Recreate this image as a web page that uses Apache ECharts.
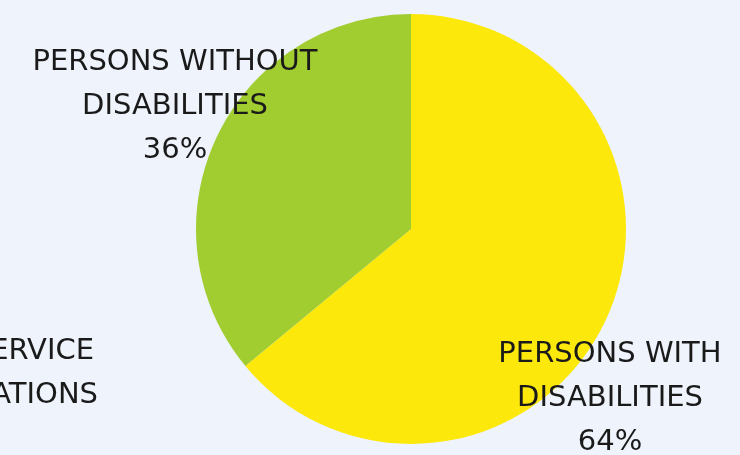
<!DOCTYPE html>
<html>
<head>
<meta charset="utf-8">
<script src="https://cdn.jsdelivr.net/npm/echarts@6/dist/echarts.min.js"></script>
<style>
  html, body { margin: 0; padding: 0; background: #eef3fc; }
  #chart { width: 740px; height: 455px; }
</style>
</head>
<body>
<div id="chart"></div>
<script>
// 饼图数据
var sliceNames = ['PERSONS WITH\nDISABILITIES', 'PERSONS WITHOUT\nDISABILITIES'];
var sliceValues = [64, 36];
var sliceColors = ['#fde80b', '#a2cd30'];
// 标签位置（标签中心点）
var labelSpots = [[610, 398], [175, 106]];
// 左侧被裁切的文字
var cutLines = ['SERVICE', 'ORGANIZATIONS'];

var chart = echarts.init(document.getElementById('chart'));

var pieData = sliceNames.map(function (n, i) {
    return { name: n, value: sliceValues[i], itemStyle: { color: sliceColors[i] } };
});

var option = {
    backgroundColor: '#eef3fc',
    animation: false,
    series: [{
        type: 'pie',
        center: [411, 229],
        radius: [0, 215],
        startAngle: 90,
        clockwise: true,
        data: pieData,
        label: {
            show: true,
            position: 'outside',
            formatter: '{b}\n{d}%',
            color: '#1a1a1a',
            fontFamily: 'DejaVu Sans',
            fontSize: 29,
            lineHeight: 44,
            align: 'center',
            overflow: 'none',
            width: 400,
            bleedMargin: 0
        },
        labelLine: { show: false },
        labelLayout: function (p) {
            var s = labelSpots[p.dataIndex];
            return { x: s[0], y: s[1], align: 'center', verticalAlign: 'middle' };
        }
    }],
    graphic: [{
        type: 'text',
        right: 740 - 94,
        top: 337,
        style: { text: cutLines[0], fill: '#1a1a1a', font: '29px "DejaVu Sans"', textAlign: 'right' }
    }, {
        type: 'text',
        right: 740 - 98,
        top: 381,
        style: { text: cutLines[1], fill: '#1a1a1a', font: '29px "DejaVu Sans"', textAlign: 'right' }
    }]
};
chart.setOption(option);
</script>
</body>
</html>
